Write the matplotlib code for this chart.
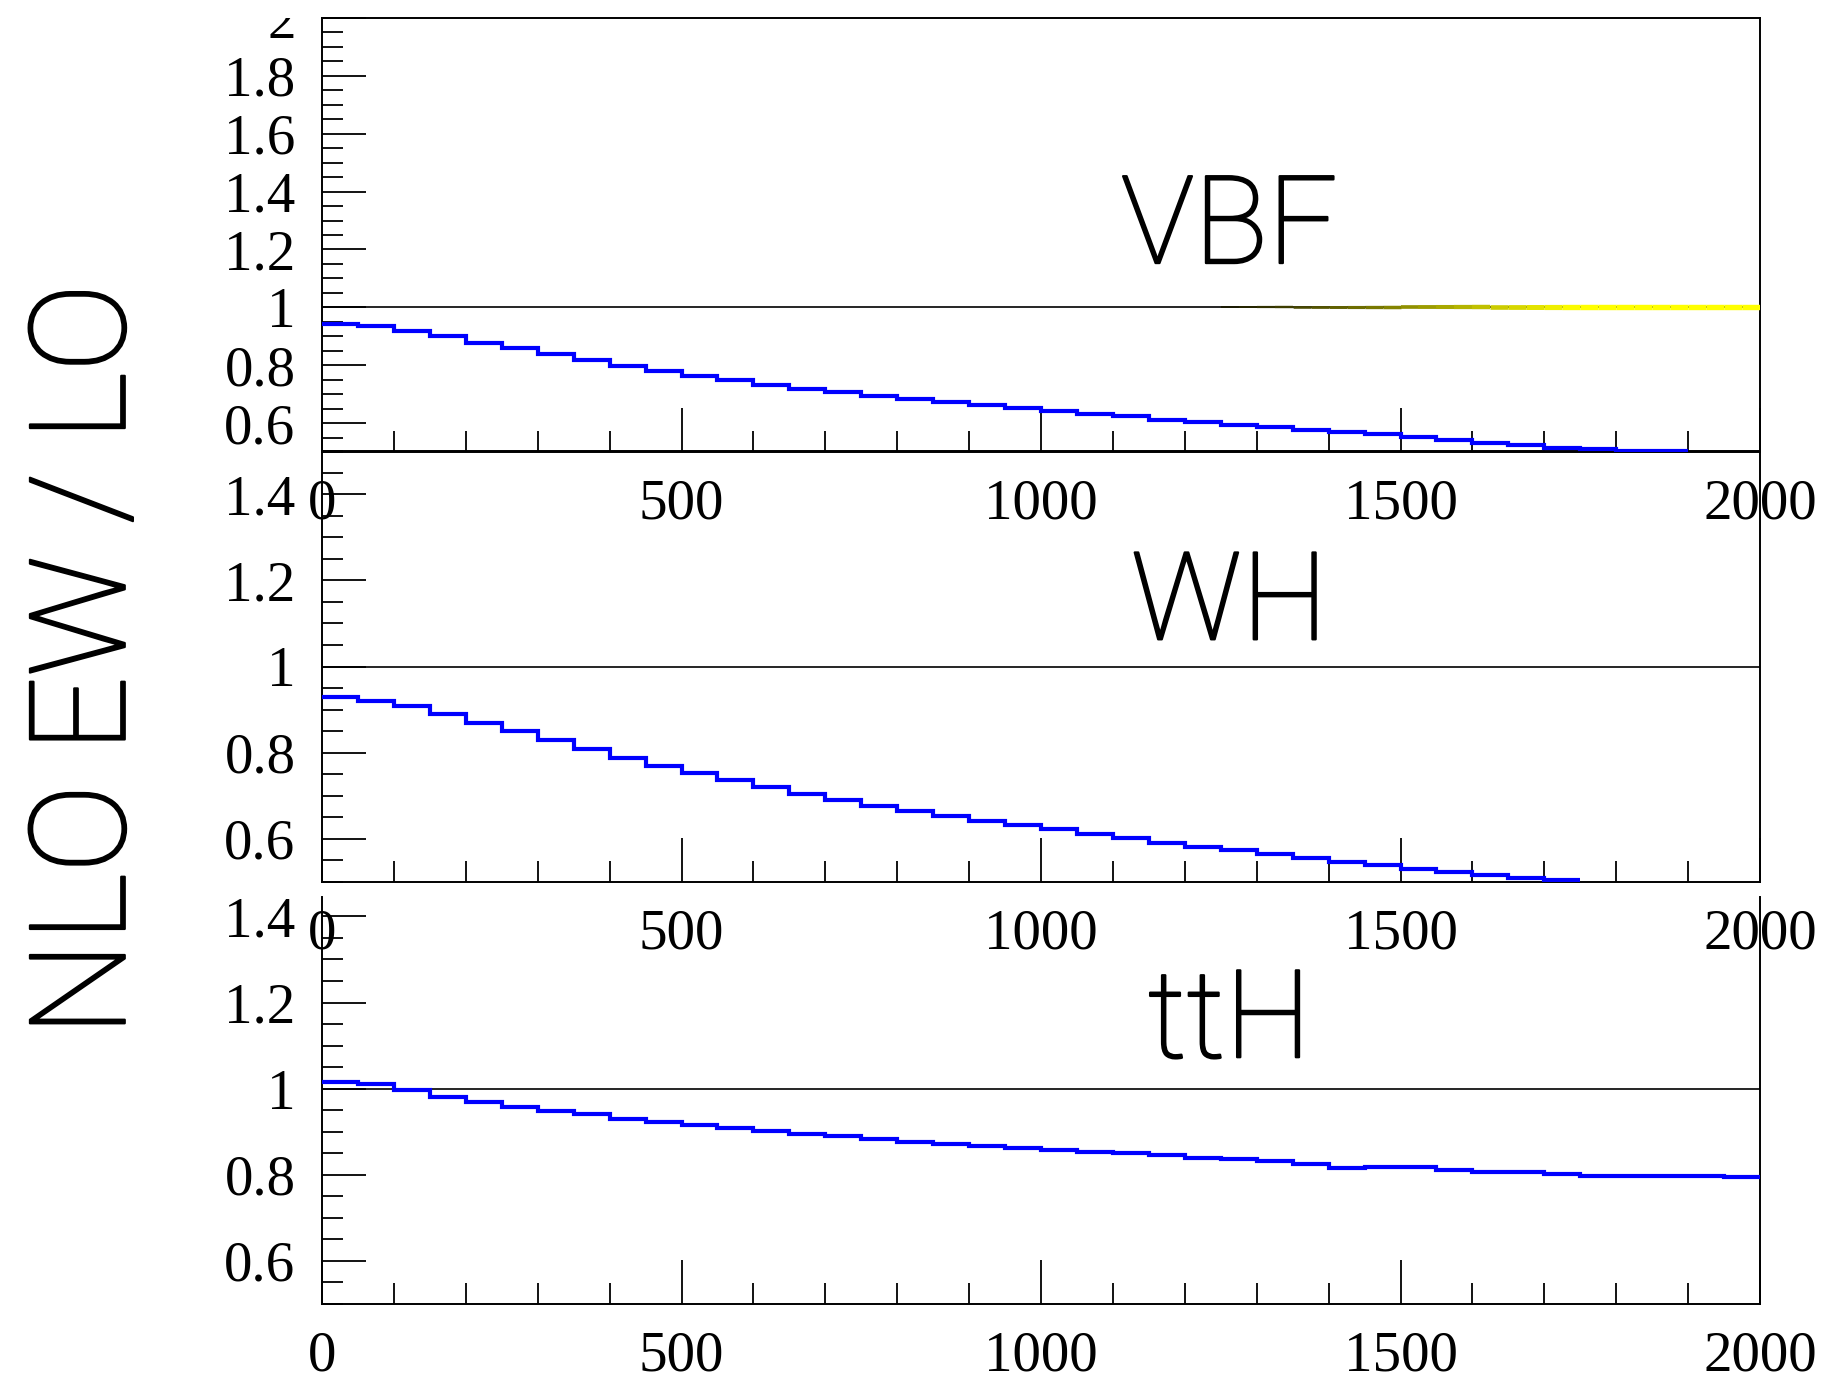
# -*- coding: utf-8 -*-
"""
NLO EW / LO ratio for VBF, WH and ttH, three stacked step-histogram panels.
"""

import numpy as np
import matplotlib
matplotlib.use("Agg")
import matplotlib.pyplot as plt
from matplotlib import patheffects
from matplotlib.collections import LineCollection
from matplotlib.ticker import MultipleLocator, FuncFormatter
from matplotlib.transforms import Bbox, TransformedBbox

# 50 GeV bins from 0 to 2000
bin_edges = np.arange(0, 2050, 50)

# ratio per bin; bins that fall below 0.5 are not listed
vbf_ratio = [0.942, 0.934, 0.919, 0.902, 0.878, 0.859, 0.838, 0.818, 0.797, 0.780,
             0.764, 0.748, 0.732, 0.719, 0.707, 0.695, 0.683, 0.674, 0.663, 0.653,
             0.642, 0.633, 0.624, 0.612, 0.603, 0.594, 0.586, 0.577, 0.569, 0.561,
             0.552, 0.541, 0.532, 0.523, 0.515, 0.509, 0.505, 0.502]
wh_ratio = [0.929, 0.920, 0.908, 0.890, 0.870, 0.850, 0.829, 0.809, 0.788, 0.770,
            0.752, 0.736, 0.721, 0.705, 0.690, 0.677, 0.665, 0.653, 0.642, 0.632,
            0.622, 0.611, 0.601, 0.591, 0.582, 0.574, 0.564, 0.556, 0.547, 0.539,
            0.531, 0.524, 0.517, 0.510, 0.504]
tth_ratio = [1.015, 1.010, 0.996, 0.981, 0.969, 0.957, 0.947, 0.940, 0.930, 0.923,
             0.916, 0.909, 0.902, 0.895, 0.889, 0.883, 0.877, 0.872, 0.867, 0.862,
             0.858, 0.854, 0.850, 0.845, 0.840, 0.836, 0.832, 0.826, 0.816, 0.819,
             0.818, 0.812, 0.806, 0.806, 0.801, 0.797, 0.797, 0.798, 0.798, 0.795]

process_names = ["VBF", "WH", "ttH"]
y_ranges = [(0.5, 2.0), (0.5, 1.5), (0.5, 1.445)]

# axes boxes in pixels from the top: (top, bottom)
W, H = 1834, 1389
LEFT, RIGHT = 322 / W, 1760 / W
panel_boxes = [
    (18, 452),
    (451, 882),
    (897, 1304),
]
# where the process name sits (x centre, baseline in data units)
name_pos = [(1262, 1.153), (1262, 1.063), (1262, 1.073)]

TICK_FONT = "Liberation Serif"
NAME_FONT = ["Roboto", "DejaVu Sans"]
# light face drawn with a thin outline so the strokes come out a bit heavier
NAME_EFFECT = [patheffects.withStroke(linewidth=1.6, foreground="black")]

plt.rcParams["font.family"] = TICK_FONT


def fmt_tick(v, _pos):
    return "{:g}".format(round(v, 3))


def style_axes(ax, ymin, ymax, show_top=True):
    ax.set_xlim(0, 2000)
    ax.set_ylim(ymin, ymax)
    ax.xaxis.set_major_locator(MultipleLocator(500))
    ax.xaxis.set_minor_locator(MultipleLocator(100))
    ax.yaxis.set_major_locator(MultipleLocator(0.2))
    ax.yaxis.set_minor_locator(MultipleLocator(0.05))
    ax.yaxis.set_major_formatter(FuncFormatter(fmt_tick))
    ax.xaxis.set_major_formatter(FuncFormatter(fmt_tick))
    ax.tick_params(axis="both", which="both", direction="in", width=1.3,
                   top=False, right=False, labelsize=41)
    ax.tick_params(axis="both", which="major", length=32)
    ax.tick_params(axis="both", which="minor", length=15)
    ax.tick_params(axis="x", which="major", pad=19)
    ax.tick_params(axis="y", which="major", pad=19)
    for spine in ax.spines.values():
        spine.set_linewidth(1.4)
        spine.set_color("black")
    ax.spines["top"].set_visible(show_top)
    ax.patch.set_alpha(0)


fig = plt.figure(figsize=(W / 100, H / 100), dpi=100)

series = [vbf_ratio, wh_ratio, tth_ratio]
axes = []
for idx, (top_px, bottom_px) in enumerate(panel_boxes):
    bottom = 1 - bottom_px / H
    height = (bottom_px - top_px) / H
    ax = fig.add_axes([LEFT, bottom, RIGHT - LEFT, height], zorder=3 - idx)
    ymin, ymax = y_ranges[idx]
    style_axes(ax, ymin, ymax, show_top=(idx != 2))

    values = series[idx]
    edges = bin_edges[: len(values) + 1]

    ax.axhline(1.0, color="black", linewidth=1.2, zorder=2)
    ax.stairs(values, edges, baseline=None, color="#0000ff", linewidth=3.0, zorder=4)

    nx, ny = name_pos[idx]
    ax.text(nx, ny, process_names[idx], ha="center", va="baseline", fontsize=88,
            family=NAME_FONT, fontweight="light", zorder=5, path_effects=NAME_EFFECT)
    axes.append(ax)

# yellow reference band at unity on the VBF panel, fading in from the left
ref_x = np.linspace(1250, 2000, 31)
segs = [[(ref_x[i], 1.0), (ref_x[i + 1], 1.0)] for i in range(len(ref_x) - 1)]
fade = np.clip(np.linspace(0, 1.5, len(segs)), 0, 1)
seg_colors = [(0.1 + 0.9 * f, 0.1 + 0.9 * f, 0.0) for f in fade]
seg_widths = 1.3 + 2.6 * fade
axes[0].add_collection(LineCollection(segs, colors=seg_colors, linewidths=seg_widths,
                                      zorder=3, capstyle="butt"))

# the top label of the first panel is cut at the top of its frame
top_clip = TransformedBbox(Bbox([[0, 0], [1, 1 - panel_boxes[0][0] / H]]), fig.transFigure)
fig.canvas.draw()
for lab in axes[0].get_yticklabels():
    lab.set_clip_box(top_clip)
    lab.set_clip_on(True)

fig.text(88 / W, 1 - 660 / H, "NLO EW / LO", rotation=90, ha="center", va="center",
         fontsize=96, family=NAME_FONT, fontweight="light", path_effects=NAME_EFFECT)

fig.savefig("out.png", dpi=100)
